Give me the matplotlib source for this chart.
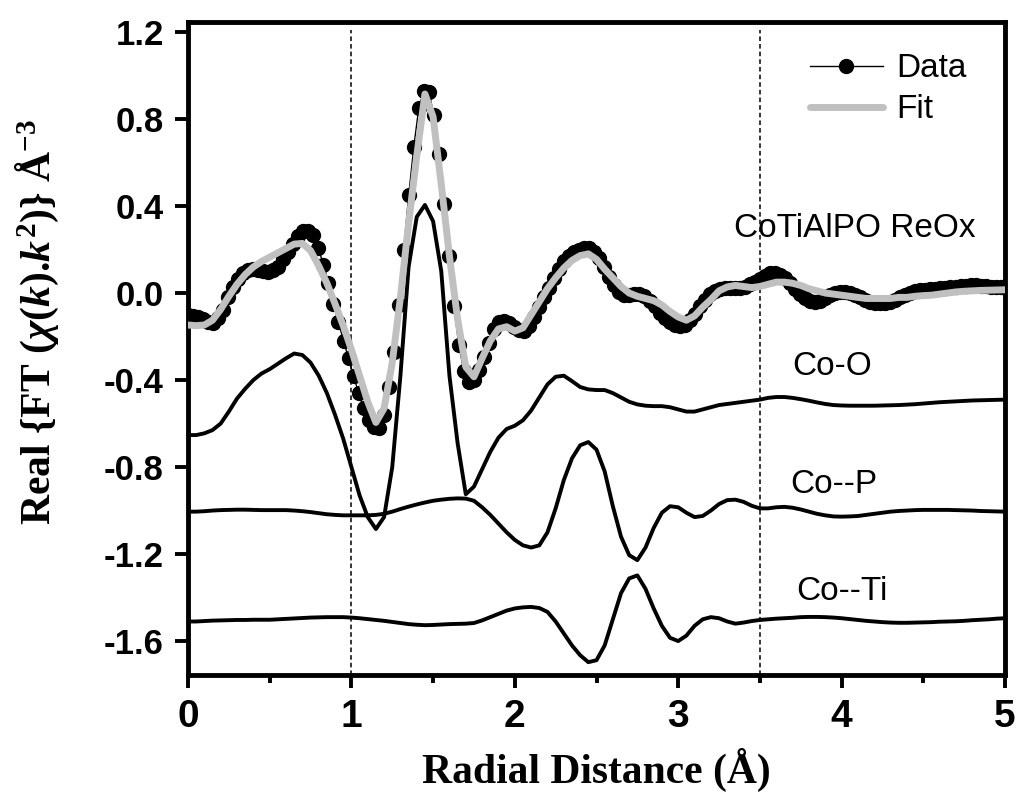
import numpy as np
import matplotlib
matplotlib.use("Agg")
import matplotlib.pyplot as plt
from matplotlib.ticker import MultipleLocator, FormatStrFormatter

# ---------------- data ----------------
R_STEP = 0.0307  # radial sampling of the experimental data (Å)
data_values = [
    -0.100, -0.105, -0.110, -0.120, -0.135, -0.140, -0.115, -0.080, -0.020, 0.030,
    0.065, 0.090, 0.105, 0.112, 0.108, 0.100, 0.098, 0.105, 0.120, 0.155,
    0.190, 0.225, 0.260, 0.285, 0.285, 0.265, 0.205, 0.130, 0.045, -0.050,
    -0.135, -0.220, -0.300, -0.380, -0.460, -0.530, -0.585, -0.615, -0.620, -0.560,
    -0.430, -0.270, -0.055, 0.200, 0.450, 0.670, 0.850, 0.930, 0.925, 0.820,
    0.640, 0.410, 0.170, -0.060, -0.240, -0.360, -0.410, -0.400, -0.355, -0.295,
    -0.230, -0.165, -0.135, -0.130, -0.140, -0.155, -0.170, -0.175, -0.150, -0.110,
    -0.065, -0.020, 0.025, 0.070, 0.110, 0.145, 0.170, 0.190, 0.200, 0.205,
    0.205, 0.190, 0.160, 0.120, 0.075, 0.035, 0.005, -0.010, -0.010, -0.005,
    -0.005, -0.015, -0.035, -0.060, -0.090, -0.115, -0.135, -0.145, -0.150, -0.145,
    -0.125, -0.095, -0.060, -0.030, -0.005, 0.010, 0.020, 0.025, 0.025, 0.025,
    0.025, 0.030, 0.040, 0.050, 0.065, 0.080, 0.090, 0.092, 0.085, 0.070,
    0.045, 0.020, -0.005, -0.025, -0.035, -0.040, -0.035, -0.025, -0.010, 0.000,
    0.005, 0.005, 0.000, -0.010, -0.020, -0.030, -0.040, -0.045, -0.048, -0.045,
    -0.040, -0.030, -0.020, -0.010, 0.000, 0.008, 0.012, 0.015, 0.018, 0.020,
    0.022, 0.025, 0.028, 0.030, 0.032, 0.034, 0.035, 0.035, 0.034, 0.032,
    0.030, 0.028, 0.026, 0.024,
]

# model curves sampled every 0.05 Å from 0 to 5 Å
fit_values = [
    -0.147, -0.150, -0.147, -0.125, -0.075, -0.015, 0.040, 0.085, 0.120, 0.145,
    0.165, 0.185, 0.205, 0.225, 0.228, 0.195, 0.125, 0.045, -0.050, -0.150,
    -0.260, -0.380, -0.500, -0.595, -0.530, -0.320, -0.020, 0.320, 0.630, 0.915,
    0.810, 0.500, 0.170, -0.120, -0.340, -0.385, -0.300, -0.220, -0.165, -0.155,
    -0.175, -0.160, -0.100, -0.040, 0.020, 0.070, 0.115, 0.150, 0.172, 0.180,
    0.155, 0.110, 0.070, 0.030, 0.000, -0.015, -0.025, -0.035, -0.055, -0.085,
    -0.110, -0.125, -0.105, -0.065, -0.030, 0.010, 0.028, 0.035, 0.030, 0.025,
    0.030, 0.040, 0.050, 0.050, 0.045, 0.035, 0.020, 0.010, 0.000, -0.005,
    -0.010, -0.015, -0.020, -0.025, -0.025, -0.025, -0.025, -0.020, -0.020, -0.015,
    -0.012, -0.010, -0.005, 0.000, 0.005, 0.008, 0.010, 0.012, 0.013, 0.014,
    0.015,
]
co_o_values = [
    -0.653, -0.653, -0.645, -0.630, -0.600, -0.545, -0.485, -0.440, -0.400, -0.370,
    -0.350, -0.325, -0.300, -0.278, -0.285, -0.320, -0.380, -0.460, -0.560, -0.670,
    -0.800, -0.930, -1.030, -1.085, -1.030, -0.800, -0.380, 0.120, 0.350, 0.405,
    0.330, 0.100, -0.380, -0.690, -0.925, -0.890, -0.810, -0.730, -0.665, -0.625,
    -0.610, -0.585, -0.540, -0.480, -0.420, -0.385, -0.380, -0.405, -0.432, -0.443,
    -0.446, -0.446, -0.460, -0.480, -0.500, -0.512, -0.518, -0.520, -0.520, -0.525,
    -0.535, -0.545, -0.545, -0.535, -0.525, -0.515, -0.510, -0.505, -0.500, -0.495,
    -0.490, -0.482, -0.478, -0.478, -0.482, -0.488, -0.495, -0.503, -0.510, -0.515,
    -0.517, -0.518, -0.518, -0.518, -0.518, -0.517, -0.516, -0.515, -0.513, -0.511,
    -0.508, -0.505, -0.502, -0.500, -0.498, -0.496, -0.494, -0.493, -0.492, -0.491,
    -0.490,
]
co_p_values = [
    -1.005, -1.005, -1.003, -1.000, -0.998, -0.997, -0.996, -0.996, -0.997, -0.998,
    -0.998, -0.998, -0.998, -1.000, -1.003, -1.007, -1.012, -1.017, -1.020, -1.022,
    -1.022, -1.022, -1.022, -1.020, -1.015, -1.005, -0.993, -0.982, -0.972, -0.963,
    -0.955, -0.950, -0.946, -0.944, -0.945, -0.955, -0.985, -1.020, -1.060, -1.100,
    -1.135, -1.160, -1.170, -1.160, -1.100, -0.990, -0.860, -0.760, -0.700, -0.685,
    -0.720, -0.820, -0.980, -1.120, -1.205, -1.228, -1.170, -1.080, -1.010, -0.980,
    -0.985, -1.010, -1.030, -1.025, -1.000, -0.970, -0.952, -0.950, -0.960, -0.978,
    -0.990, -0.990, -0.985, -0.983, -0.987, -0.995, -1.005, -1.015, -1.022, -1.027,
    -1.028, -1.027, -1.025, -1.020, -1.015, -1.010, -1.005, -1.002, -1.000, -0.998,
    -0.997, -0.997, -0.997, -0.997, -0.998, -0.999, -1.000, -1.002, -1.003, -1.004,
    -1.005,
]
co_ti_values = [
    -1.510, -1.510, -1.508, -1.506, -1.505, -1.504, -1.503, -1.503, -1.502, -1.502,
    -1.502, -1.500, -1.498, -1.496, -1.494, -1.492, -1.491, -1.490, -1.490, -1.490,
    -1.492, -1.495, -1.499, -1.503, -1.507, -1.512, -1.517, -1.522, -1.525, -1.527,
    -1.526, -1.524, -1.522, -1.521, -1.520, -1.517, -1.505, -1.490, -1.475, -1.460,
    -1.450, -1.445, -1.443, -1.448, -1.466, -1.510, -1.565, -1.620, -1.665, -1.697,
    -1.688, -1.620, -1.500, -1.380, -1.312, -1.298, -1.360, -1.450, -1.530, -1.585,
    -1.600, -1.575, -1.530, -1.500, -1.490, -1.495, -1.510, -1.520, -1.515, -1.508,
    -1.503, -1.500, -1.497, -1.495, -1.493, -1.490, -1.489, -1.489, -1.490, -1.492,
    -1.495, -1.499, -1.503, -1.507, -1.510, -1.513, -1.515, -1.516, -1.516, -1.515,
    -1.514, -1.513, -1.511, -1.510, -1.509, -1.507, -1.504, -1.502, -1.500, -1.497,
    -1.495,
]
window_lines = [1.0, 3.5]
x_ticks = [0, 1, 2, 3, 4, 5]
y_ticks = [-1.6, -1.2, -0.8, -0.4, 0.0, 0.4, 0.8, 1.2]
annotations = [("CoTiAlPO ReOx", 4.08, 0.257), ("Co-O", 3.94, -0.377),
               ("Co--P", 3.95, -0.92), ("Co--Ti", 4.0, -1.41)]

r_data = np.arange(len(data_values)) * R_STEP
r_model = np.linspace(0, 5, len(fit_values))

# ---------------- style ----------------
plt.rcParams['font.family'] = ['Liberation Sans', 'DejaVu Sans']
plt.rcParams['axes.unicode_minus'] = False
plt.rcParams['mathtext.fontset'] = 'custom'
plt.rcParams['mathtext.rm'] = 'Liberation Serif:bold'
plt.rcParams['mathtext.it'] = 'Liberation Serif:bold:italic'
plt.rcParams['mathtext.bf'] = 'Liberation Serif:bold'

fig = plt.figure(figsize=(10.21, 8.09), dpi=100)
ax = fig.add_axes([188/1021, 1-675/809, (1005-188)/1021, (675-22)/809])

for vals in (co_o_values, co_p_values, co_ti_values):
    ax.plot(r_model, vals, color='black', lw=2.8, zorder=2,
            solid_joinstyle='round')

ax.plot(r_data, data_values, color='black', lw=1.0, marker='o', ms=10,
        mfc='black', mec='black', zorder=3, label='Data')
ax.plot(r_model, fit_values, color='#c0c0c0', lw=5.0, zorder=4,
        solid_capstyle='round', solid_joinstyle='round', label='Fit')

for xv in window_lines:
    ax.axvline(xv, ymin=0, ymax=0.988, color='black', lw=1.1,
               ls=(0, (3, 2)), zorder=1)

for txt, xx, yy in annotations:
    ax.text(xx, yy, txt, fontsize=24, ha='center', va='baseline',
            family=['Liberation Sans', 'DejaVu Sans'])

ax.set_xlim(0, 5)
ax.set_ylim(-1.756, 1.246)
ax.set_xticks(x_ticks)
ax.xaxis.set_minor_locator(MultipleLocator(0.5))
ax.set_yticks(y_ticks)
ax.yaxis.set_major_formatter(FormatStrFormatter('%.1f'))

for s in ax.spines.values():
    s.set_linewidth(3.5)
ax.tick_params(axis='both', which='major', direction='out', length=9.5,
               width=2.8)
ax.tick_params(axis='x', which='minor', direction='out', length=6, width=2.8)
ax.tick_params(axis='y', which='minor', length=0)
ax.tick_params(axis='x', labelsize=28, pad=8)
ax.tick_params(axis='y', labelsize=25, pad=8)
for lab in ax.get_xticklabels() + ax.get_yticklabels():
    lab.set_fontweight('bold')

ax.set_xlabel('Radial Distance (Å)', fontsize=30, fontweight='bold',
              family=['Liberation Serif', 'DejaVu Serif'])
ax.xaxis.set_label_coords(0.5, -0.112)
ax.set_ylabel(r'Real {FT ($\chi$($k$).$k^2$)} Å$^{-3}$', fontsize=30,
              fontweight='bold', family=['Liberation Serif', 'DejaVu Serif'])
ax.yaxis.set_label_coords(-0.155, 0.54)

leg = ax.legend(loc='upper left', bbox_to_anchor=(0.761, 0.952), frameon=False,
                fontsize=24, handlelength=2.2, handletextpad=0.4,
                labelspacing=0.3, borderpad=0, borderaxespad=0)

fig.savefig('out.png', dpi=100)
